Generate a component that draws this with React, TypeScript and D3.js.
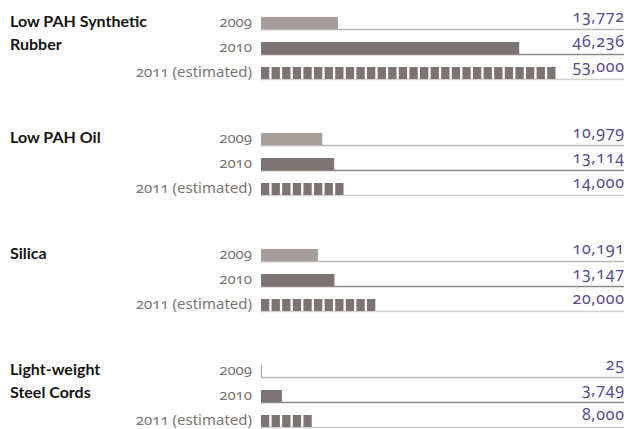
import React from "react";
import * as d3 from "d3";

const categories = [
  ["Low PAH Synthetic", "Rubber"],
  ["Low PAH Oil"],
  ["Silica"],
  ["Light-weight", "Steel Cords"],
];
const years = ["2009", "2010", "2011 (estimated)"];
const values2009 = [13772, 10979, 10191, 25];
const values2010 = [46236, 13114, 13147, 3749];
const values2011 = [53000, 14000, 20000, 8000];

const W = 629;
const H = 429;
const barX0 = 261;
const lineX1 = 624;
const groupTop0 = 17;
const groupPitch = 116;
const rowPitch = 25;
const barH = 12;
const segPeriod = 10.6;
const segW = 8.3;

const barColors = ["#a59e9b", "#7b7472", "#7b7472"];
const lineColors = ["#bdb7b4", "#8e8784", "#d4d0ce"];
const purple = "#57498f";

export default function App() {
  const x = d3.scaleLinear().domain([0, 53000]).range([0, 296]);
  const fmt = d3.format(",");
  const series = [values2009, values2010, values2011];

  return (
    <svg
      width={W}
      height={H}
      style={{ position: "absolute", left: 0, top: 0, background: "#fff" }}
    >
      {categories.map((cat, gi) => {
        const gTop = groupTop0 + groupPitch * gi;
        return (
          <g key={gi}>
            {cat.map((line, li) => (
              <text
                key={li}
                x={10}
                y={gTop + 10 + li * 23}
                fontFamily="Lato, 'Open Sans', sans-serif"
                fontWeight={700}
                fontSize={16}
                fill="#151515"
              >
                {line}
              </text>
            ))}
            {years.map((yr, ri) => {
              const top = gTop + rowPitch * ri;
              const v = series[ri][gi];
              const w = Math.max(x(v), 1);
              const n = Math.max(1, Math.ceil(w / segPeriod));
              return (
                <g key={ri}>
                  <line
                    x1={barX0}
                    x2={lineX1}
                    y1={top + barH + 0.5}
                    y2={top + barH + 0.5}
                    stroke={lineColors[ri]}
                    strokeWidth={1.5}
                  />
                  {ri < 2 ? (
                    <rect
                      x={barX0}
                      y={top}
                      width={w}
                      height={barH}
                      fill={barColors[ri]}
                    />
                  ) : (
                    d3.range(n).map((i) => (
                      <rect
                        key={i}
                        x={barX0 + i * segPeriod}
                        y={top}
                        width={segW}
                        height={barH}
                        fill={barColors[ri]}
                      />
                    ))
                  )}
                  <text
                    x={252}
                    y={top + 10}
                    textAnchor="end"
                    fontFamily="'Noto Sans', 'Open Sans', sans-serif"
                    fontSize={15}
                    fill="#7a7472"
                    style={{ fontVariantNumeric: "oldstyle-nums" }}
                  >
                    {yr}
                  </text>
                  <text
                    x={lineX1 + 0.7}
                    y={top + 5}
                    textAnchor="end"
                    fontFamily="'Noto Sans', 'Open Sans', sans-serif"
                    fontSize={16}
                    letterSpacing={0.7}
                    fill={purple}
                    style={{ fontVariantNumeric: "oldstyle-nums" }}
                  >
                    {fmt(v)}
                  </text>
                </g>
              );
            })}
          </g>
        );
      })}
    </svg>
  );
}
